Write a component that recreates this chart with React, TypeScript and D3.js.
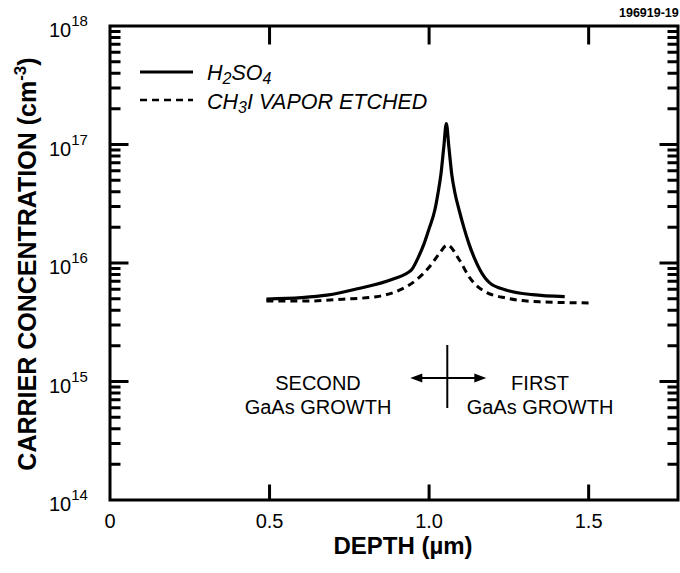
import React from "react";
import * as d3 from "d3";

// Carrier concentration profiles across the regrowth interface
const h2so4Depth = [0.49, 0.6, 0.68, 0.78, 0.885, 0.944, 0.965, 0.984, 1.0, 1.018, 1.028, 1.037, 1.046, 1.054, 1.062, 1.071, 1.081, 1.094, 1.11, 1.125, 1.142, 1.16, 1.19, 1.243, 1.324, 1.425];
const h2so4Conc = [4.97e15, 5.1e15, 5.35e15, 6.1e15, 7.3e15, 8.7e15, 1.1e16, 1.45e16, 1.95e16, 2.8e16, 3.9e16, 5.6e16, 9.5e16, 1.5e17, 9.5e16, 5.6e16, 3.9e16, 2.8e16, 1.95e16, 1.45e16, 1.1e16, 8.7e15, 6.8e15, 5.9e15, 5.4e15, 5.2e15];

const ch3iDepth = [0.49, 0.62, 0.73, 0.835, 0.907, 0.96, 1.0, 1.032, 1.057, 1.095, 1.126, 1.167, 1.243, 1.346, 1.505];
const ch3iConc = [4.78e15, 4.78e15, 4.95e15, 5.2e15, 5.9e15, 7.2e15, 9.2e15, 1.2e16, 1.42e16, 1.06e16, 7.6e15, 5.9e15, 5.05e15, 4.7e15, 4.6e15];

const xTicks = [0, 0.5, 1.0, 1.5];
const xTickLabels = ["0", "0.5", "1.0", "1.5"];
const yDecades = [14, 15, 16, 17, 18];

const plotLeft = 110;
const plotRight = 678;
const plotTop = 26;
const plotBottom = 500;

const xScale = d3.scaleLinear().domain([0, 1.78]).range([plotLeft, plotRight]);
const yScale = d3.scaleLog().domain([1e14, 1e18]).range([plotBottom, plotTop]);

const FONT = "'Liberation Sans', Arial, Helvetica, sans-serif";

export default function App() {
  const lineGen = d3
    .line<[number, number]>()
    .x((d) => xScale(d[0]))
    .y((d) => yScale(d[1]))
    .curve(d3.curveMonotoneX);

  const solidPts = h2so4Depth.map((d, i) => [d, h2so4Conc[i]] as [number, number]);
  const dashPts = ch3iDepth.map((d, i) => [d, ch3iConc[i]] as [number, number]);

  // frame and inward ticks drawn as one path
  const path = d3.path();
  path.moveTo(plotLeft, plotTop);
  path.lineTo(plotRight, plotTop);
  path.lineTo(plotRight, plotBottom);
  path.lineTo(plotLeft, plotBottom);
  path.closePath();
  yScale.ticks().forEach((v) => {
    const decade = Math.abs(Math.log10(v) - Math.round(Math.log10(v))) < 1e-6;
    const len = decade ? 17 : 9;
    const yy = yScale(v);
    path.moveTo(plotLeft, yy);
    path.lineTo(plotLeft + len, yy);
    path.moveTo(plotRight, yy);
    path.lineTo(plotRight - len, yy);
  });
  xTicks
    .filter((t) => t > 0)
    .forEach((t) => {
      const xx = xScale(t);
      path.moveTo(xx, plotBottom);
      path.lineTo(xx, plotBottom - 14);
      path.moveTo(xx, plotTop);
      path.lineTo(xx, plotTop + 17);
    });

  // arrow cross marking the interface
  const cx = xScale(1.057);
  const cy = yScale(1.07e15);

  return (
    <svg width={680} height={573} style={{ position: "absolute", left: 0, top: 0, background: "#fff" }}>
      <path d={path.toString()} fill="none" stroke="#000" strokeWidth={3} strokeLinecap="square" />

      {/* y tick labels */}
      <g fontFamily={FONT} fill="#000">
        {yDecades.map((e) => (
          <text key={"yl" + e} x={49} y={yScale(Math.pow(10, e)) + 11} fontSize={20}>
            10
            <tspan fontSize={15} dy={-11}>{e}</tspan>
          </text>
        ))}
      </g>

      {/* x tick labels */}
      <g fontFamily={FONT} fill="#000" fontSize={20} textAnchor="middle">
        {xTicks.map((t, i) => (
          <text key={"xl" + t} x={xScale(t)} y={528}>
            {xTickLabels[i]}
          </text>
        ))}
      </g>

      {/* axis titles */}
      <text x={403} y={554} fontFamily={FONT} fontWeight="bold" fontSize={24} textAnchor="middle">
        DEPTH (µm)
      </text>
      <text
        transform={`translate(36, 264) rotate(-90)`}
        fontFamily={FONT}
        fontWeight="bold"
        fontSize={25}
        textAnchor="middle"
      >
        CARRIER CONCENTRATION (cm
        <tspan fontSize={17} dy={-10}>-3</tspan>
        <tspan dy={10}>)</tspan>
      </text>

      {/* figure number */}
      <text x={619} y={17} fontFamily={FONT} fontWeight="bold" fontSize={12.5}>
        196919-19
      </text>

      {/* curves */}
      <path d={lineGen(solidPts) || ""} fill="none" stroke="#000" strokeWidth={3.2} strokeLinejoin="round" />
      <path d={lineGen(dashPts) || ""} fill="none" stroke="#000" strokeWidth={3} strokeDasharray="7,5" />

      {/* legend */}
      <g fontFamily={FONT} fontStyle="italic" fontSize={21.5} fill="#000">
        <line x1={140} x2={193} y1={72} y2={72} stroke="#000" strokeWidth={3} />
        <text x={207} y={80}>
          H<tspan fontSize={16} dy={4}>2</tspan>
          <tspan dy={-4}>SO</tspan>
          <tspan fontSize={16} dy={4}>4</tspan>
        </text>
        <line x1={140} x2={193} y1={100} y2={100} stroke="#000" strokeWidth={2.5} strokeDasharray="7,5" />
        <text x={207} y={109}>
          CH<tspan fontSize={16} dy={4}>3</tspan>
          <tspan dy={-4}>I VAPOR ETCHED</tspan>
        </text>
      </g>

      {/* interface marker */}
      <g stroke="#000" strokeWidth={2} fill="#000">
        <line x1={cx} x2={cx} y1={cy - 33} y2={cy + 30} />
        <line x1={cx - 30} x2={cx + 30} y1={cy} y2={cy} />
        <path d={`M${cx - 37},${cy} L${cx - 25},${cy - 4.5} L${cx - 25},${cy + 4.5} Z`} stroke="none" />
        <path d={`M${cx + 39},${cy} L${cx + 27},${cy - 4.5} L${cx + 27},${cy + 4.5} Z`} stroke="none" />
      </g>

      {/* region labels */}
      <g fontFamily={FONT} fontSize={20} textAnchor="middle" fill="#000">
        <text x={318} y={390}>SECOND</text>
        <text x={318} y={414}>GaAs GROWTH</text>
        <text x={540} y={390}>FIRST</text>
        <text x={540} y={414}>GaAs GROWTH</text>
      </g>
    </svg>
  );
}
